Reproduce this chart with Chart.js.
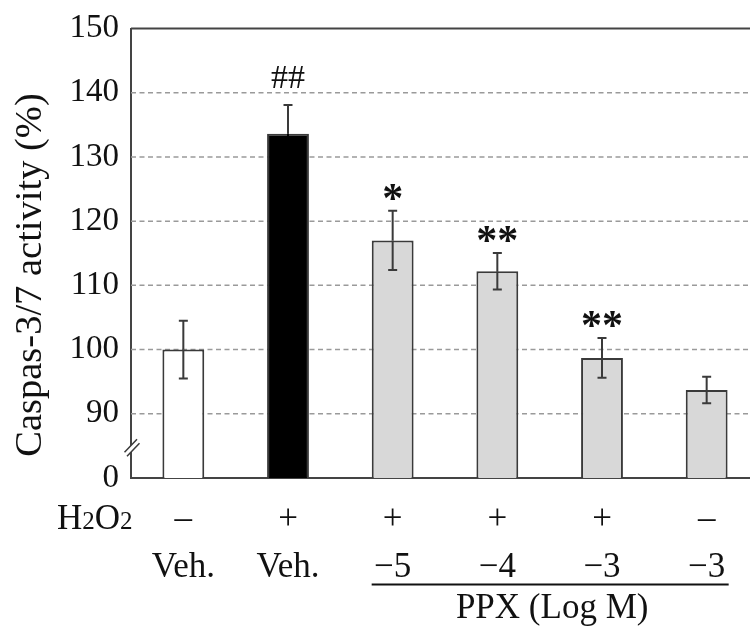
<!DOCTYPE html>
<html>
<head>
<meta charset="utf-8">
<script src="https://cdn.jsdelivr.net/npm/chart.js@4.4.1/dist/chart.umd.min.js"></script>
<style>
  html, body { margin: 0; padding: 0; background: #fff; overflow: hidden; }
  #wrap { width: 760px; height: 626px; }
</style>
</head>
<body>
<div id="wrap"><canvas id="caspaseChart" width="760" height="626"></canvas></div>
<script>
// groups, left to right
const groups = ['veh', 'h2o2', 'ppx5', 'ppx4', 'ppx3', 'ppx3only'];
const h2o2Row = ['\u2013', '+', '+', '+', '+', '\u2013'];
const doseRow = ['Veh.', 'Veh.', '\u22125', '\u22124', '\u22123', '\u22123'];
const activity = [100, 133.6, 117.0, 112.2, 98.7, 93.7];
const activitySE = [4.5, 4.5, 4.6, 2.85, 3.1, 2.05];
const marks = ['', '##', '*', '**', '**', ''];
const barColors = ['#ffffff', '#000000', '#d8d8d8', '#d8d8d8', '#d8d8d8', '#d8d8d8'];

// y axis is broken: the bottom tick (80) is labelled 0
const yTicks = [80, 90, 100, 110, 120, 130, 140, 150];
const yTickLabels = ['0', '90', '100', '110', '120', '130', '140', '150'];
const gridValues = [90, 100, 110, 120, 130, 140];
const breakAt = 84.7;
const yTitle = 'Caspas-3/7 activity (%)';

const SERIF = '"Liberation Serif", "Times New Roman", serif';
const INK = '#111';
const LINE = '#3a3a3a';

// dashed reference lines and the top frame line
const gridLines = {
  id: 'gridLines',
  beforeDatasetsDraw(chart) {
    const { ctx, chartArea: a, scales: { y } } = chart;
    ctx.save();
    ctx.strokeStyle = '#9a9a9a';
    ctx.lineWidth = 1.5;
    ctx.setLineDash([5, 3.5]);
    gridValues.forEach(v => {
      const py = y.getPixelForValue(v);
      ctx.beginPath();
      ctx.moveTo(a.left, py);
      ctx.lineTo(a.right, py);
      ctx.stroke();
    });
    ctx.setLineDash([]);
    ctx.strokeStyle = '#444';
    ctx.lineWidth = 2;
    const top = y.getPixelForValue(yTicks[yTicks.length - 1]);
    ctx.beginPath();
    ctx.moveTo(a.left, top);
    ctx.lineTo(a.right, top);
    ctx.stroke();
    ctx.restore();
  }
};

function drawCentered(ctx, text, x, cy) {
  const m = ctx.measureText(text);
  const asc = m.actualBoundingBoxAscent, desc = m.actualBoundingBoxDescent;
  ctx.fillText(text, x, cy + (asc - desc) / 2);
}

// error bars, significance marks, axis break, y title
const errorBars = {
  id: 'errorBars',
  afterDatasetsDraw(chart) {
    const { ctx, chartArea: a, scales: { x, y } } = chart;
    ctx.save();
    ctx.lineWidth = 2;
    activity.forEach((v, i) => {
      const cx = x.getPixelForValue(i);
      const mid = y.getPixelForValue(v);
      const top = y.getPixelForValue(v + activitySE[i]);
      const bot = y.getPixelForValue(v - activitySE[i]);
      ctx.strokeStyle = LINE;
      ctx.beginPath();
      ctx.moveTo(cx, top); ctx.lineTo(cx, mid);
      ctx.moveTo(cx - 4.5, top); ctx.lineTo(cx + 4.5, top);
      ctx.stroke();
      // lower half disappears inside a black bar
      ctx.strokeStyle = barColors[i] === '#000000' ? '#000000' : LINE;
      ctx.beginPath();
      ctx.moveTo(cx, mid); ctx.lineTo(cx, bot);
      ctx.moveTo(cx - 4.5, bot); ctx.lineTo(cx + 4.5, bot);
      ctx.stroke();
      if (marks[i]) {
        ctx.fillStyle = INK;
        ctx.textAlign = 'center';
        ctx.textBaseline = 'alphabetic';
        if (marks[i].startsWith('#')) {
          ctx.font = '34px ' + SERIF;
          drawCentered(ctx, marks[i], cx, top - 28);
        } else {
          ctx.font = 'bold 42px ' + SERIF;
          drawCentered(ctx, marks[i], cx, top - 19);
        }
      }
    });

    // axis break marks
    const by = y.getPixelForValue(breakAt);
    const bx = a.left;
    ctx.fillStyle = '#fff';
    ctx.beginPath();
    ctx.moveTo(bx - 6.5, by + 4.5);
    ctx.lineTo(bx + 6, by - 8.5);
    ctx.lineTo(bx + 8.5, by - 4.5);
    ctx.lineTo(bx - 4, by + 8.5);
    ctx.closePath();
    ctx.fill();
    ctx.strokeStyle = LINE;
    ctx.lineWidth = 1.5;
    ctx.beginPath();
    ctx.moveTo(bx - 6.5, by + 4.5); ctx.lineTo(bx + 6, by - 8.5);
    ctx.moveTo(bx - 4, by + 8.5); ctx.lineTo(bx + 8.5, by - 4.5);
    ctx.stroke();

    // rotated y axis title
    ctx.translate(31, 275);
    ctx.rotate(-Math.PI / 2);
    ctx.fillStyle = INK;
    ctx.font = '38.5px ' + SERIF;
    ctx.textAlign = 'center';
    ctx.textBaseline = 'middle';
    ctx.fillText(yTitle, 0, 0);
    ctx.restore();
  }
};

// treatment table under the x axis
const treatmentTable = {
  id: 'treatmentTable',
  afterDraw(chart) {
    const { ctx, scales: { x } } = chart;
    ctx.save();
    ctx.fillStyle = INK;
    ctx.textBaseline = 'alphabetic';

    // H2O2 row label, digits set smaller
    let px = 57;
    const parts = [['H', 35], ['2', 25], ['O', 35], ['2', 25]];
    ctx.textAlign = 'left';
    parts.forEach(([t, s]) => {
      ctx.font = s + 'px ' + SERIF;
      ctx.fillText(t, px, 529);
      px += ctx.measureText(t).width;
    });

    ctx.textAlign = 'center';
    ctx.font = '35px ' + SERIF;
    groups.forEach((g, i) => {
      const cx = x.getPixelForValue(i);
      ctx.fillText(h2o2Row[i], cx, 529);
      ctx.fillText(doseRow[i], cx, 577);
    });

    // PPX bracket line and label
    const x0 = x.getPixelForValue(2) - 21;
    const x1 = x.getPixelForValue(5) + 22;
    ctx.strokeStyle = INK;
    ctx.lineWidth = 2;
    ctx.beginPath();
    ctx.moveTo(x0, 584.5);
    ctx.lineTo(x1, 584.5);
    ctx.stroke();
    ctx.fillText('PPX (Log M)', (x0 + x1) / 2 + 2, 618);
    ctx.restore();
  }
};

new Chart(document.getElementById('caspaseChart'), {
  type: 'bar',
  data: {
    labels: groups,
    datasets: [{
      data: activity,
      backgroundColor: barColors,
      borderColor: LINE,
      borderWidth: 2,
      borderSkipped: false,
      barPercentage: 0.4,
      categoryPercentage: 1.0
    }]
  },
  options: {
    responsive: false,
    animation: false,
    devicePixelRatio: 1,
    layout: { padding: { top: 28.5, right: 1, bottom: 0, left: 0 } },
    plugins: { legend: { display: false }, tooltip: { enabled: false } },
    scales: {
      x: {
        grid: { display: false },
        ticks: { display: false },
        border: { display: true, color: '#444', width: 2 },
        afterFit: s => { s.height = 148; }
      },
      y: {
        min: yTicks[0],
        max: yTicks[yTicks.length - 1],
        grid: { display: false },
        border: { display: true, color: '#444', width: 2 },
        afterBuildTicks: s => { s.ticks = yTicks.map(v => ({ value: v })); },
        afterFit: s => { s.width = 131; },
        ticks: {
          padding: 4,
          color: INK,
          font: { family: SERIF, size: 33 },
          callback: (v) => yTickLabels[yTicks.indexOf(v)]
        }
      }
    }
  },
  plugins: [gridLines, errorBars, treatmentTable]
});
</script>
</body>
</html>
